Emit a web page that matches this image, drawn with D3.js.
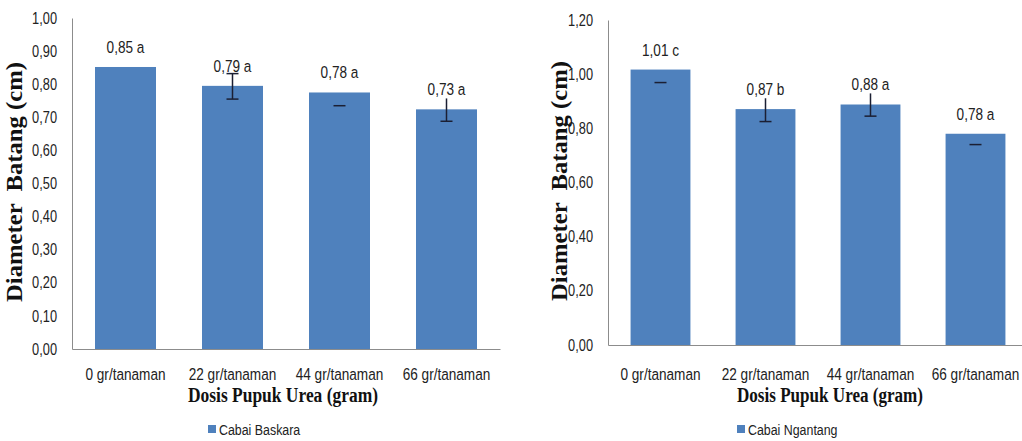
<!DOCTYPE html>
<html>
<head>
<meta charset="utf-8">
<script src="https://cdn.jsdelivr.net/npm/d3@7"></script>
<style>
  body { margin: 0; background: #fff; }
  svg { display: block; }
</style>
</head>
<body>
<div id="chart"></div>
<script>
// shared categories
const categories = ["0 gr/tanaman", "22 gr/tanaman", "44 gr/tanaman", "66 gr/tanaman"];

// Cabai Baskara (left)
const baskaraValues = [0.852, 0.795, 0.775, 0.724];
const baskaraLabels = ["0,85 a", "0,79 a", "0,78 a", "0,73 a"];
const baskaraErrLow = [null, 0.755, 0.735, 0.688];
const baskaraErrHigh = [null, 0.832, null, 0.757];
const baskaraCapTop = [false, true, false, false];
const baskaraTicks = [0, 0.1, 0.2, 0.3, 0.4, 0.5, 0.6, 0.7, 0.8, 0.9, 1.0];

// Cabai Ngantang (right)
const ngantangValues = [1.017, 0.871, 0.888, 0.78];
const ngantangLabels = ["1,01 c", "0,87 b", "0,88 a", "0,78 a"];
const ngantangErrLow = [0.969, 0.825, 0.845, 0.74];
const ngantangErrHigh = [null, 0.911, 0.929, null];
const ngantangCapTop = [false, false, false, false];
const ngantangTicks = [0, 0.2, 0.4, 0.6, 0.8, 1.0, 1.2];

const width = 1022, height = 441;
const barColor = "#4f81bd";
const sansFont = "'Liberation Sans', Arial, sans-serif";
const serifFont = "'Liberation Serif', 'DejaVu Serif', serif";
const SX = 0.8; // horizontal squeeze to get a narrow sans look

const fmt = d3.formatLocale({ decimal: ",", thousands: ".", grouping: [3], currency: ["", ""] }).format(".2f");

const svg = d3.select("#chart").append("svg")
    .attr("width", width)
    .attr("height", height);

// squeeze texts horizontally while keeping their anchor point
function narrow(sel) {
    sel.each(function() {
        const t = d3.select(this);
        const x0 = +(t.attr("x") || 0);
        t.attr("x", x0 / SX).attr("transform", `scale(${SX},1)`);
    });
}

function drawChart(opt) {
    const g = svg.append("g");

    const x = d3.scaleBand()
        .domain(categories)
        .range([opt.left, opt.right])
        .paddingInner(0.43)
        .paddingOuter(0.215);

    const y = d3.scaleLinear()
        .domain([0, opt.max])
        .range([opt.bottom, opt.top]);

    // y axis
    const yAxis = g.append("g")
        .attr("transform", `translate(${opt.left},0)`)
        .call(d3.axisLeft(y).tickValues(opt.ticks).tickFormat(fmt).tickSize(0).tickPadding(15));
    yAxis.select(".domain").attr("stroke", "#8c8c8c");
    yAxis.selectAll("text")
        .attr("font-family", sansFont)
        .attr("font-size", 16)
        .attr("fill", "#222")
        .call(narrow);

    // bars
    g.selectAll(".bar")
        .data(opt.values)
        .join("rect")
        .attr("class", "bar")
        .attr("x", (d, i) => x(categories[i]))
        .attr("y", d => y(d))
        .attr("width", x.bandwidth())
        .attr("height", d => y(0) - y(d))
        .attr("fill", barColor);

    // x axis
    const xAxis = g.append("g")
        .attr("transform", `translate(0,${opt.bottom})`)
        .call(d3.axisBottom(x).tickSize(0).tickPadding(380 - opt.bottom - 12));
    xAxis.select(".domain").attr("stroke", "#8c8c8c");
    xAxis.selectAll("text")
        .attr("font-family", sansFont)
        .attr("font-size", 17)
        .attr("fill", "#222")
        .call(narrow);

    // error bars
    const cx = i => x(categories[i]) + x.bandwidth() / 2;
    opt.errLow.forEach((lo, i) => {
        if (lo == null) return;
        const hi = opt.errHigh[i];
        if (hi != null) {
            g.append("line")
                .attr("x1", cx(i)).attr("x2", cx(i))
                .attr("y1", y(hi)).attr("y2", y(lo))
                .attr("stroke", "#1b1f33").attr("stroke-width", 1.5);
        }
        g.append("line")
            .attr("x1", cx(i) - 6).attr("x2", cx(i) + 6)
            .attr("y1", y(lo)).attr("y2", y(lo))
            .attr("stroke", "#1b1f33").attr("stroke-width", 1.5);
        if (opt.capTop[i]) {
            g.append("line")
                .attr("x1", cx(i) - 6).attr("x2", cx(i) + 6)
                .attr("y1", y(hi)).attr("y2", y(hi))
                .attr("stroke", "#1b1f33").attr("stroke-width", 1.5);
        }
    });

    // value labels
    g.selectAll(".lbl")
        .data(opt.labels)
        .join("text")
        .attr("class", "lbl")
        .attr("x", (d, i) => cx(i))
        .attr("y", (d, i) => y(opt.values[i]) - 14)
        .attr("text-anchor", "middle")
        .attr("font-family", sansFont)
        .attr("font-size", 17)
        .attr("fill", "#222")
        .text(d => d)
        .call(narrow);

    // y title
    g.append("text")
        .attr("transform", `translate(${opt.yTitleX},${opt.yTitleY}) rotate(-90)`)
        .attr("text-anchor", "middle")
        .attr("font-family", serifFont)
        .attr("font-weight", "bold")
        .attr("font-size", 24)
        .attr("textLength", 240)
        .attr("lengthAdjust", "spacingAndGlyphs")
        .attr("fill", "#111")
        .attr("xml:space", "preserve")
        .text("Diameter  Batang (cm)");

    // x title
    g.append("text")
        .attr("x", opt.xTitleX)
        .attr("y", 402)
        .attr("text-anchor", "middle")
        .attr("font-family", serifFont)
        .attr("font-weight", "bold")
        .attr("font-size", 20)
        .attr("textLength", opt.xTitleW)
        .attr("lengthAdjust", "spacingAndGlyphs")
        .attr("fill", "#111")
        .text("Dosis Pupuk Urea (gram)");

    // legend
    g.append("rect")
        .attr("x", opt.legendX).attr("y", 425)
        .attr("width", 8).attr("height", 8)
        .attr("fill", barColor);
    g.append("text")
        .attr("x", opt.legendX + 11)
        .attr("y", 435)
        .attr("font-family", sansFont)
        .attr("font-size", 15.5)
        .attr("fill", "#222")
        .text(opt.name)
        .call(narrow);
}

drawChart({
    name: "Cabai Baskara",
    values: baskaraValues, labels: baskaraLabels,
    errLow: baskaraErrLow, errHigh: baskaraErrHigh, capTop: baskaraCapTop,
    ticks: baskaraTicks, max: 1.0,
    left: 72, right: 500, top: 18, bottom: 349,
    yTitleX: 22, yTitleY: 182, xTitleX: 283, xTitleW: 190, legendX: 208
});

drawChart({
    name: "Cabai Ngantang",
    values: ngantangValues, labels: ngantangLabels,
    errLow: ngantangErrLow, errHigh: ngantangErrHigh, capTop: ngantangCapTop,
    ticks: ngantangTicks, max: 1.2,
    left: 608, right: 1028, top: 20, bottom: 345,
    yTitleX: 567, yTitleY: 181, xTitleX: 830, xTitleW: 186, legendX: 737
});
</script>
</body>
</html>
